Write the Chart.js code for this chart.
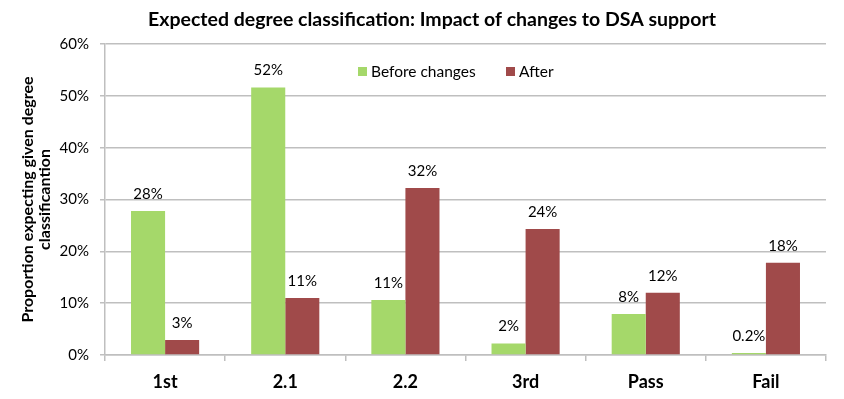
<!DOCTYPE html>
<html>
<head>
<meta charset="utf-8">
<script src="https://cdn.jsdelivr.net/npm/chart.js@4/dist/chart.umd.min.js"></script>
<style>
html,body{margin:0;padding:0;background:#fff;}
#wrap{width:844px;height:399px;position:relative;}
</style>
</head>
<body>
<div id="wrap"><canvas id="c" width="844" height="399"></canvas></div>
<script>
const categories = ['1st', '2.1', '2.2', '3rd', 'Pass', 'Fail'];
const beforeValues = [27.8, 51.6, 10.6, 2.2, 7.9, 0.4];
const afterValues = [2.9, 11.0, 32.2, 24.3, 12.0, 17.8];
const beforeLabels = ['28%', '52%', '11%', '2%', '8%', '0.2%'];
const afterLabels = ['3%', '11%', '32%', '24%', '12%', '18%'];
const yTicks = [0, 10, 20, 30, 40, 50, 60];
const seriesNames = ['Before changes', 'After'];
const titleText = 'Expected degree classification: Impact of changes to DSA support';
const yTitle = ['Proportion expecting given degree', 'classificantion'];

const FONT = 'Lato, "Open Sans", sans-serif';
const GREEN = '#a5d86a';
const RED = '#a04a4a';
const GRID = '#bfbfbf';

const valueLabels = {
  id: 'valueLabels',
  afterDatasetsDraw(chart) {
    const ctx = chart.ctx;
    const lbls = [beforeLabels, afterLabels];
    ctx.save();
    ctx.font = '15px ' + FONT;
    ctx.fillStyle = '#000';
    ctx.textAlign = 'center';
    ctx.textBaseline = 'middle';
    chart.data.datasets.forEach((ds, di) => {
      const meta = chart.getDatasetMeta(di);
      meta.data.forEach((el, i) => {
        ctx.fillText(lbls[di][i], el.x, el.y - 17);
      });
    });
    ctx.restore();
  }
};

const innerLegend = {
  id: 'innerLegend',
  afterDraw(chart) {
    const ctx = chart.ctx;
    const a = chart.chartArea;
    const y = a.top + 28;
    let x = a.left + 253;
    ctx.save();
    ctx.font = '15.5px ' + FONT;
    ctx.textBaseline = 'middle';
    ctx.textAlign = 'left';
    chart.data.datasets.forEach((ds, i) => {
      ctx.fillStyle = ds.backgroundColor;
      ctx.fillRect(x, y - 5, 9, 9);
      ctx.fillStyle = '#000';
      ctx.fillText(ds.label, x + 13, y);
      x += 148;
    });
    ctx.restore();
  }
};

const topTitle = {
  id: 'topTitle',
  afterDraw(chart) {
    const ctx = chart.ctx;
    ctx.save();
    ctx.font = 'bold 19.5px ' + FONT;
    ctx.fillStyle = '#000';
    ctx.textAlign = 'center';
    ctx.textBaseline = 'middle';
    ctx.fillText(titleText, chart.width / 2 + 10, 20);
    ctx.restore();
  }
};

new Chart(document.getElementById('c'), {
  type: 'bar',
  data: {
    labels: categories,
    datasets: [
      { label: seriesNames[0], data: beforeValues, backgroundColor: GREEN, borderWidth: 0 },
      { label: seriesNames[1], data: afterValues, backgroundColor: RED, borderWidth: 0 }
    ]
  },
  options: {
    responsive: false,
    animation: false,
    devicePixelRatio: 1,
    layout: { padding: { top: 44, right: 18, left: 0, bottom: 0 } },
    datasets: { bar: { categoryPercentage: 0.567, barPercentage: 1.0 } },
    plugins: {
      legend: { display: false },
      tooltip: { enabled: false },
      title: { display: false }
    },
    scales: {
      x: {
        offset: true,
        grid: { display: true, drawOnChartArea: false, offset: true, tickLength: 6, color: GRID, lineWidth: 1.5 },
        border: { color: GRID, width: 1.5 },
        ticks: { color: '#000', font: { family: FONT, size: 18, weight: 'bold' }, padding: 10 },
        afterFit(s) { s.height = 44; }
      },
      y: {
        min: 0, max: 60,
        afterBuildTicks(s) { s.ticks = yTicks.map(v => ({ value: v })); },
        grid: { color: GRID, lineWidth: 1.5, tickLength: 5 },
        border: { color: GRID, width: 1.5 },
        ticks: { color: '#000', font: { family: FONT, size: 15 }, padding: 11, callback: v => v + '%' },
        title: {
          display: true,
          text: yTitle,
          color: '#000',
          font: { family: FONT, size: 16, weight: 'bold', lineHeight: 1.08 },
          padding: { top: 19, bottom: 0 }
        },
        afterFit(s) { s.width = 105; }
      }
    }
  },
  plugins: [valueLabels, innerLegend, topTitle]
});
</script>
</body>
</html>
